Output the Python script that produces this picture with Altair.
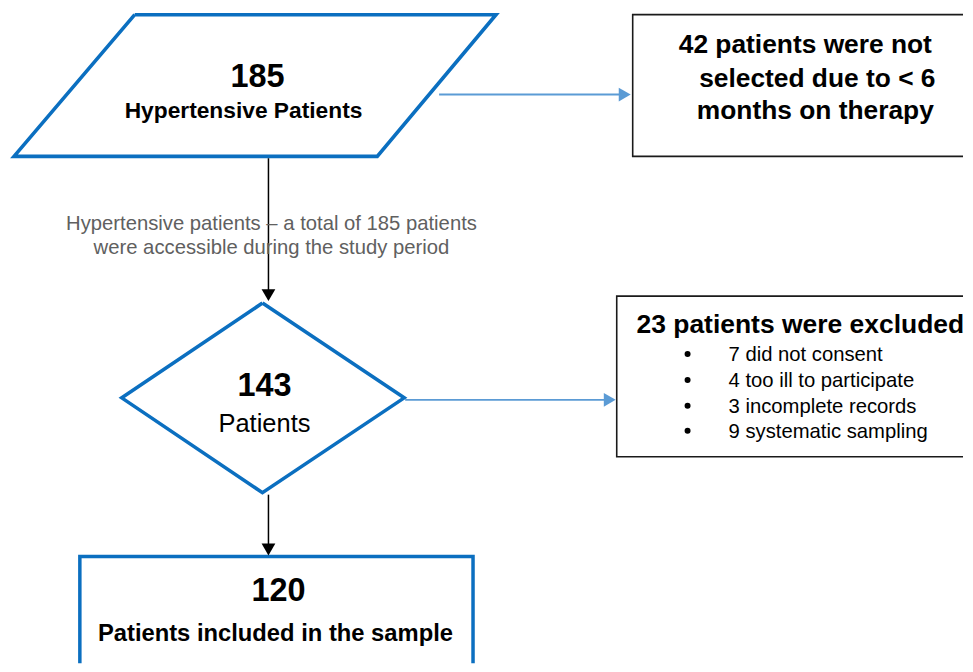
import altair as alt
import pandas as pd

# ---------------- layout frame (page pixels) ----------------
W, H = 957, 656
X_DOM = [8, 965]
Y_DOM = [8, 664]

BLUE = "#0B6FC0"
LIGHT_BLUE = "#5B9BD5"
BLACK = "#000000"
BOX_EDGE = "#1a1a1a"
GREY = "#606060"
FONT = "Liberation Sans"

# ---------------- flowchart geometry ----------------
# parallelogram (start node) corners
para_x = [135, 497, 378, 14, 135]
para_y = [14, 14, 156, 156, 14]
# diamond corners
dia_x = [263, 405, 263, 122, 263]
dia_y = [303, 398, 493, 398, 303]

# rectangular boxes
box_x1 = [634, 618, 80]
box_x2 = [995, 995, 474]
box_y1 = [14, 296, 557]
box_y2 = [156, 457, 700]
box_stroke = [BOX_EDGE, BOX_EDGE, BLUE]
box_width = [1.6, 1.6, 3.5]

# connectors (lines)
con_x1 = [269, 269, 440, 406]
con_y1 = [158, 495, 94, 400]
con_x2 = [269, 269, 622, 607]
con_y2 = [292, 547, 94, 400]
con_color = [BLACK, BLACK, LIGHT_BLUE, LIGHT_BLUE]
con_width = [1.5, 1.5, 1.8, 1.8]

# arrow heads
head_x = [269, 269, 626, 611]
head_y = [295, 550, 94, 400]
head_shape = ["triangle-down", "triangle-down", "triangle-right", "triangle-right"]
head_color = [BLACK, BLACK, LIGHT_BLUE, LIGHT_BLUE]

# ---------------- texts ----------------
big_num = ["185", "143", "120"]
big_num_x = [258, 265, 279]
big_num_y = [86, 396, 602]

bold_lbl = ["Hypertensive Patients", "Patients included in the sample"]
bold_lbl_x = [244, 276]
bold_lbl_y = [118, 642]

diamond_lbl = ["Patients"]
diamond_lbl_x = [265]
diamond_lbl_y = [432]

excl1_lines = ["42 patients were not", "selected due to < 6", "months on therapy"]
excl1_x = [807, 819, 817]
excl1_y = [52, 86, 119]

excl2_title = ["23 patients were excluded"]
excl2_title_x = [802]
excl2_title_y = [333]

reasons = ["7 did not consent", "4 too ill to participate",
           "3 incomplete records", "9 systematic sampling"]
reason_x = [730, 730, 730, 730]
reason_y = [361, 387, 413, 438]
bullet_x = [689, 689, 689, 689]

note_lines = ["Hypertensive patients \u2013 a total of 185 patients",
              "were accessible during the study period"]
note_x = [272, 272]
note_y = [230, 254]

# ---------------- build chart ----------------
xs = alt.Scale(domain=X_DOM, nice=False, zero=False)
ys = alt.Scale(domain=Y_DOM, nice=False, zero=False, reverse=True)


def X(f="x"):
    return alt.X(f"{f}:Q", scale=xs, axis=None)


def Y(f="y"):
    return alt.Y(f"{f}:Q", scale=ys, axis=None)


poly_rows = []
for name, xx, yy in [("para", para_x, para_y), ("dia", dia_x, dia_y)]:
    for i, (a, b) in enumerate(zip(xx, yy)):
        poly_rows.append({"shape": name, "x": a, "y": b, "o": i})
poly = alt.Chart(pd.DataFrame(poly_rows)).mark_line(
    color=BLUE, strokeWidth=3.6, strokeJoin="miter", clip=True
).encode(x=X(), y=Y(), order="o:Q", detail="shape:N")

boxes = alt.Chart(pd.DataFrame({
    "x": box_x1, "x2": box_x2, "y": box_y1, "y2": box_y2,
    "c": box_stroke, "w": box_width,
})).mark_rect(fill="white", fillOpacity=0, clip=True).encode(
    x=X(), x2="x2:Q", y=Y(), y2="y2:Q",
    stroke=alt.Stroke("c:N", scale=None),
    strokeWidth=alt.StrokeWidth("w:Q", scale=None),
)

rules = alt.Chart(pd.DataFrame({
    "x": con_x1, "y": con_y1, "x2": con_x2, "y2": con_y2,
    "c": con_color, "w": con_width,
})).mark_rule(clip=True).encode(
    x=X(), y=Y(), x2="x2:Q", y2="y2:Q",
    color=alt.Color("c:N", scale=None),
    strokeWidth=alt.StrokeWidth("w:Q", scale=None),
)

heads = alt.Chart(pd.DataFrame({
    "x": head_x, "y": head_y, "s": head_shape, "c": head_color,
})).mark_point(filled=True, opacity=1, size=190, clip=True).encode(
    x=X(), y=Y(),
    shape=alt.Shape("s:N", scale=None),
    color=alt.Color("c:N", scale=None),
)

bullets = alt.Chart(pd.DataFrame({
    "x": bullet_x, "y": [v - 7 for v in reason_y],
})).mark_point(filled=True, opacity=1, size=36, shape="circle",
               color=BLACK).encode(x=X(), y=Y())


def text_layer(texts, xx, yy, size, weight="normal", color=BLACK, align="center"):
    return alt.Chart(pd.DataFrame({"t": texts, "x": xx, "y": yy})).mark_text(
        font=FONT, fontSize=size, fontWeight=weight, color=color,
        align=align, baseline="alphabetic",
    ).encode(x=X(), y=Y(), text="t:N")


layers = [
    boxes, poly, rules, heads, bullets,
    text_layer(big_num, big_num_x, big_num_y, 32.5, "bold"),
    text_layer(bold_lbl[:1], bold_lbl_x[:1], bold_lbl_y[:1], 22.8, "bold"),
    text_layer(bold_lbl[1:], bold_lbl_x[1:], bold_lbl_y[1:], 23.8, "bold"),
    text_layer(diamond_lbl, diamond_lbl_x, diamond_lbl_y, 25.5),
    text_layer(excl1_lines, excl1_x, excl1_y, 26.4, "bold"),
    text_layer(excl2_title, excl2_title_x, excl2_title_y, 26.5, "bold"),
    text_layer(reasons, reason_x, reason_y, 20.3, align="left"),
    text_layer(note_lines, note_x, note_y, 20.3, color=GREY),
]

chart = alt.layer(*layers).properties(
    width=W, height=H, padding=0, background="white"
).configure_view(stroke=None)

chart.save("out.html", embed_options={"renderer": "svg", "actions": False})
